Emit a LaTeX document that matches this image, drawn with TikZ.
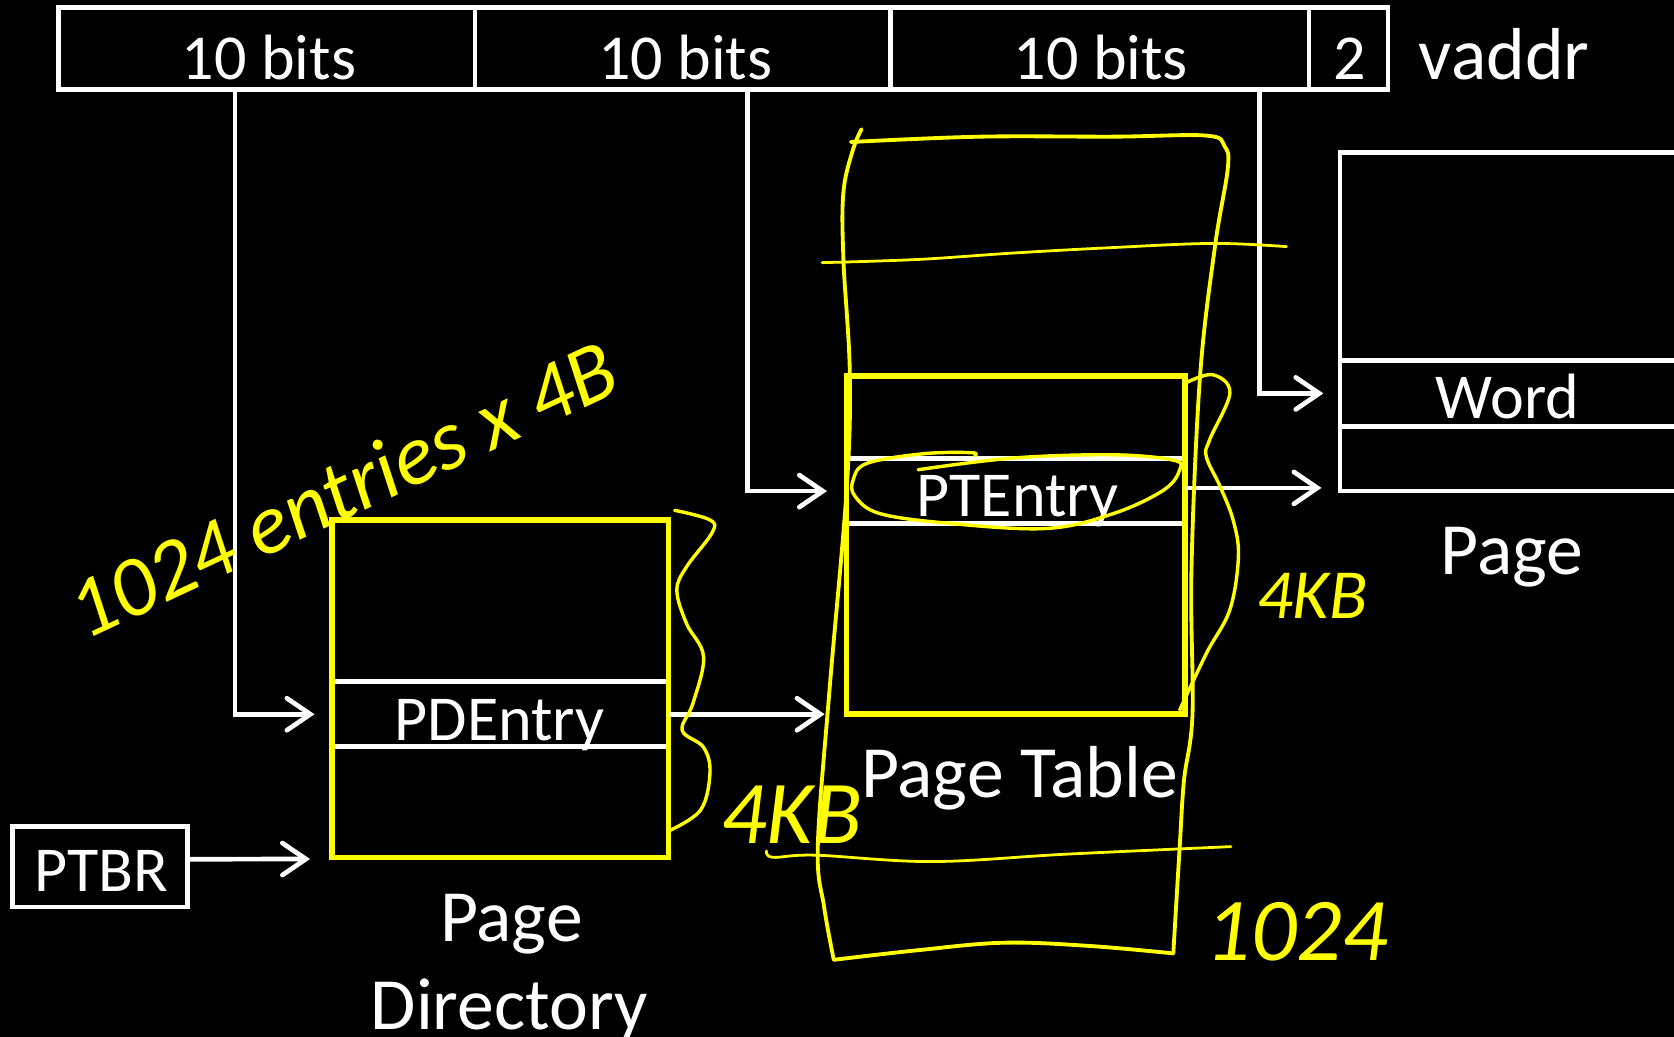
\documentclass[tikz,border=0pt]{standalone}
\usepackage{fontspec}
\setmainfont{Carlito}
\usetikzlibrary{arrows.meta}
\definecolor{hl}{RGB}{255,255,0}
\begin{document}
\begin{tikzpicture}[x=0.5pt,y=-0.5pt,
  field/.style={draw=white,line width=2.2pt,inner sep=0pt,minimum height=38.5pt},
  wbox/.style={draw=white,line width=2.2pt,inner sep=0pt},
  ybox/.style={draw=hl,line width=2.6pt,inner sep=0pt},
  row/.style={inner sep=0pt,minimum height=30pt},
  wl/.style={draw=white,line width=2.2pt},
  ptr/.style={draw=white,line width=2.2pt,-{Straight Barb[length=11pt,width=15pt,line cap=round]}},
  lbl/.style={text=white,font=\fontsize{30}{36}\selectfont,inner sep=0pt,anchor=base},
  title/.style={text=white,font=\fontsize{34.5}{40}\selectfont,inner sep=0pt,anchor=base},
  ink/.style={draw=hl,line width=1.6pt,line cap=round,line join=round},
  hand/.style={text=hl,font=\itshape,inner sep=0pt,anchor=base west}]
\fill[black] (0,0) rectangle (1568,971);
\useasboundingbox (0,0) rectangle (1568,971);

% virtual address fields
\node[field,minimum width=195pt]   (f1) at (250,45.5) {};
\node[field,minimum width=194.5pt] (f2) at (639.5,45.5) {};
\node[field,minimum width=196pt]   (f3) at (1030,45.5) {};
\node[field,minimum width=37pt]    (f4) at (1263,45.5) {};
\node[lbl] (t1) at (252,74) {10 bits};
\node[lbl] (t2) at (642,74) {10 bits};
\node[lbl] (t3) at (1031,74) {10 bits};
\node[lbl] (t4) at (1264,74) {2};
\node[title] (va) at (1409,74) {vaddr};

% page directory
\node[row,minimum width=157.5pt] (pde) at (468.5,669) {};
\draw[wl] (pde.north west) -- (pde.north east);
\draw[wl] (pde.south west) -- (pde.south east);
\node[ybox,minimum width=157.5pt,minimum height=158pt] (pd) at (468.5,645) {};
\node[lbl] (pdet) at (468,694) {PDEntry};
\node[title] (pdl1) at (479,882) {Page};
\node[title] (pdl2) at (477,964) {Directory};

% page table
\node[row,minimum width=158.5pt] (pte) at (951.5,460) {};
\draw[wl] (pte.north west) -- (pte.north east);
\draw[wl] (pte.south west) -- (pte.south east);
\node[ybox,minimum width=158.5pt,minimum height=158.5pt] (pt) at (951.5,510.5) {};
\node[lbl] (ptet) at (953,484) {PTEntry};
\node[title] (ptl) at (955,747) {Page Table};

% page
\node[wbox,minimum width=222.5pt,minimum height=158.5pt] (pg) at (1477.5,301.5) {};
\node[row,minimum width=222.5pt,minimum height=30.5pt] (word) at (1477.5,368.5) {};
\draw[wl] (word.north west) -- (word.north east);
\draw[wl] (word.south west) -- (word.south east);
\node[lbl] (wordt) at (1412,392) {Word};
\node[title] (pgl) at (1416,538) {Page};

% base register
\node[wbox,minimum width=82pt,minimum height=37.8pt] (ptbr) at (93.6,811.8) {};
\node[lbl] (ptbrt) at (95,835) {PTBR};

% pointers
\draw[ptr,shorten >=8pt] ([xshift=-15pt]f1.south) |- (pde.west);
\draw[ptr,shorten >=9pt] ([xshift=30.25pt]f2.south) |- (pte.west);
\draw[ptr,shorten >=7.5pt] ([xshift=75pt]f3.south) |- (word.west);
\draw[ptr] ([yshift=3.5pt]ptbr.east) -- ([xshift=-9pt,yshift=0.5pt]pd.south west);
\draw[ptr,shorten >=9pt] (pde.east) -- (pde.east -| pt.west);
\draw[ptr,shorten >=7.5pt] ([yshift=1.5pt]pte.east) -- ([yshift=1.5pt]pte.east -| pg.west);

% annotations: full page table outline
\draw[ink,line width=1.8pt] plot[smooth,tension=0.6] coordinates {(807,121) (799,140) (790,180) (790,243) (796,350) (793,459) (777,646) (766,793) (772,850) (781,899)};
\draw[ink,line width=1.8pt] plot[smooth,tension=0.6] coordinates {(797,133) (918,128) (1043,128) (1130,127) (1147,137) (1150,158) (1138,231) (1124,353) (1116,534) (1117,668) (1109,731) (1105,793) (1099,893)};
\draw[ink,line width=1.8pt] plot[smooth,tension=0.6] coordinates {(1099,893) (1020,886) (940,883) (860,890) (781,899)};
\draw[ink,line width=1.3pt] plot[smooth,tension=0.6] coordinates {(770,246) (860,243) (949,237) (1040,232) (1136,228) (1205,231)};
\draw[ink,line width=1.3pt] plot[smooth,tension=0.6] coordinates {(718,797) (724,803) (764,801) (873,807) (1000,800) (1153,793)};

% braces
\draw[ink] plot[smooth,tension=0.6] coordinates {(632,478) (665,487) (667,499) (643,531) (634,553) (643,584) (659,615) (649,659) (639,684) (659,700) (665,724) (656,759) (625,779)};
\draw[ink] plot[smooth,tension=0.6] coordinates {(1112,358) (1136,351) (1152,368) (1133,412) (1130,428) (1143,456) (1155,487) (1160,521) (1152,571) (1130,612) (1105,665)};

% loop round the table entry
\draw[ink] plot[smooth,tension=0.6] coordinates {(860,440) (949,429) (1043,426) (1099,431) (1105,440) (1090,459) (1043,481) (980,495) (887,490) (824,481) (801,465) (799,450) (812,434) (865,425) (910,424) (913,427)};

% handwritten notes
\node[hand,rotate=25,font=\itshape\fontsize{40}{40}\selectfont] (n1) at (80,600) {1024 entries x 4B};
\node[hand,font=\itshape\fontsize{42}{42}\selectfont] (n2) at (675,790) {4KB};
\node[hand,font=\itshape\fontsize{33}{33}\selectfont] (n3) at (1177,579) {4KB};
\node[hand,font=\itshape\fontsize{42}{42}\selectfont] (n4) at (1129,900) {1024};
\end{tikzpicture}
\end{document}
